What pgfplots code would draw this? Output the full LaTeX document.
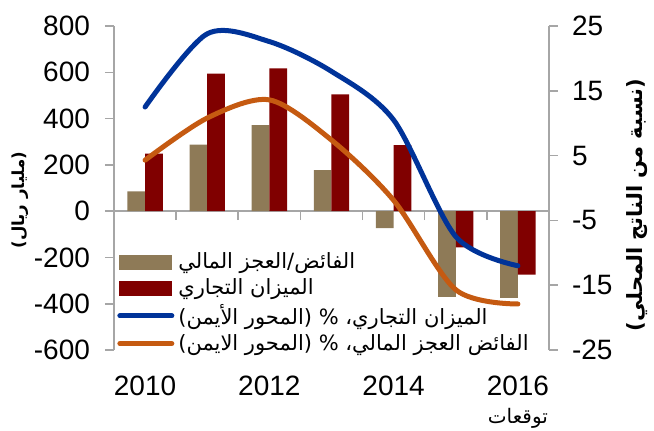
\documentclass[border=0pt]{standalone}
\usepackage{pgfplots}
\pgfplotsset{compat=1.18}
\usepackage{fontspec}
\setmainfont{Liberation Sans}
\newfontfamily\arabicfont[Script=Arabic]{DejaVu Sans}
\TeXXeTstate=1

\definecolor{tanc}{HTML}{8E7A57}
\definecolor{redc}{HTML}{800000}
\definecolor{bluec}{HTML}{003399}
\definecolor{orangec}{HTML}{C55A11}
\definecolor{axgray}{HTML}{A6A6A6}

\pgfplotsset{
  base/.style={
    width=217.5pt, height=162pt, scale only axis,
    xmin=-0.5, xmax=6.5,
    tick label style={font=\fontsize{14}{16}\selectfont},
    /pgf/number format/assume math mode=true,
    axis line style={axgray, line width=0.8pt},
    tick style={axgray, line width=0.8pt},
    major tick length=4.5pt,
    tick align=outside,
  },
}

\begin{document}
\begin{tikzpicture}
\useasboundingbox (-57pt,-40pt) rectangle (270pt,175pt);
% bars, left axis
\begin{axis}[base,
  ymin=-600, ymax=800, ytick={-600,-400,...,800},
  axis y line*=left, axis x line*=middle,
  xtick={0.5,1.5,...,5.5}, xticklabels={},
  yticklabel style={xshift=-4pt},
  ybar=0pt, bar width=8.85pt,
  ylabel={\arabicfont\bfseries\beginR (مليار ريال)\endR},
  ylabel style={at={(axis description cs:-0.216,0.463)}, anchor=center,
    font=\fontsize{8.3}{10}\selectfont},
]
\addplot[fill=tanc, draw=none] coordinates {
  (0,85) (1,288) (2,372) (3,177) (4,-73) (5,-370) (6,-375)};
\addplot[fill=redc, draw=none] coordinates {
  (0,249) (1,594) (2,617) (3,505) (4,285) (5,-157) (6,-274)};
\end{axis}
% lines, right axis
\begin{axis}[base,
  ymin=-25, ymax=25, ytick={-25,-15,...,25},
  axis y line*=right, axis x line*=bottom,
  x axis line style={draw=none},
  xtick={0,2,4,6},
  xticklabels={2010,2012,2014,{2016\\[-2pt]{\arabicfont\fontsize{10}{12}\selectfont\beginR توقعات\endR}}},
  xticklabel style={align=center, yshift=-5pt},
  yticklabel style={xshift=3.5pt},
  xtick style={draw=none},
  ylabel={\arabicfont\bfseries\beginR (نسبة من الناتج المحلي)\endR},
  ylabel style={at={(axis description cs:1.202,0.447)}, anchor=center,
    font=\fontsize{10.5}{12}\selectfont},
  legend style={draw=none, fill=none, at={(-0.007,0.326)}, anchor=north west,
    font=\arabicfont\fontsize{10.5}{12}\selectfont, row sep=-0.6pt},
  legend cell align=left,
]
\addlegendimage{legend image code/.code={\fill[tanc] (0pt,-3.5pt) rectangle (26pt,3.5pt);}}
\addlegendimage{legend image code/.code={\fill[redc] (0pt,-3.5pt) rectangle (26pt,3.5pt);}}
\addplot[bluec, line width=2.5pt, smooth, line cap=round, no markers,
  legend image code/.code={\draw[bluec, line width=2.5pt, line cap=round] (0pt,0pt) -- (26pt,0pt);}]
  coordinates {(0,12.5) (1,23.8) (2,22.6) (3,18.0) (4,10.5) (5,-7.5) (6,-12.0)};
\addplot[orangec, line width=2.5pt, smooth, line cap=round, no markers,
  legend image code/.code={\draw[orangec, line width=2.5pt, line cap=round] (0pt,0pt) -- (26pt,0pt);}]
  coordinates {(0,4.3) (1,10.8) (2,13.6) (3,7.4) (4,-1.9) (5,-15.7) (6,-17.9)};
\legend{{\beginR الفائض/العجز المالي\endR},
        {\beginR الميزان التجاري\endR},
        {\beginR الميزان التجاري، \% (المحور الأيمن)\endR},
        {\beginR الفائض العجز المالي، \% (المحور الايمن)\endR}}
\end{axis}
\end{tikzpicture}
\end{document}
